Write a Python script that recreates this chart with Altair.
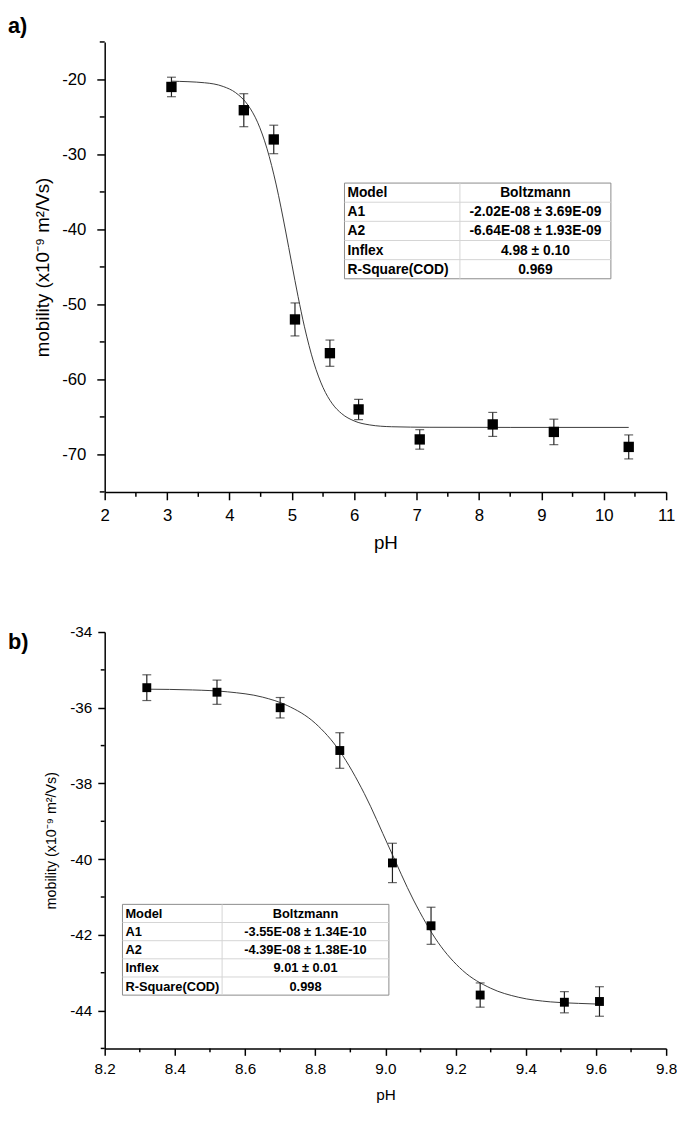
import altair as alt
import pandas as pd

FONT = "Liberation Sans"

# ---------------- panel a data ----------------
ph_a = [3.07, 4.23, 4.71, 5.05, 5.61, 6.07, 7.05, 8.22, 9.20, 10.40]
mob_a = [-21.0, -24.1, -28.0, -52.0, -56.5, -64.0, -68.0, -66.0, -67.0, -69.0]
err_a = [1.3, 2.2, 1.9, 2.2, 1.75, 1.35, 1.3, 1.6, 1.7, 1.6]
fit_ph_a = [3.07, 3.6, 3.9, 4.1, 4.3, 4.45, 4.6, 4.75, 4.9, 5.0, 5.1, 5.2, 5.35,
            5.5, 5.65, 5.8, 6.0, 6.25, 6.6, 7.2, 8.5, 10.4]
fit_mob_a = [-20.23, -20.44, -20.94, -21.77, -23.46, -25.7, -29.18, -34.07, -40.21,
             -44.63, -48.96, -52.9, -57.7, -61.08, -63.26, -64.57, -65.54, -66.07,
             -66.31, -66.38, -66.4, -66.4]
xticks_a = [2, 3, 4, 5, 6, 7, 8, 9, 10, 11]
xminor_a = [2.5, 3.5, 4.5, 5.5, 6.5, 7.5, 8.5, 9.5, 10.5]
yticks_a = [-20, -30, -40, -50, -60, -70]
yminor_a = [-15, -25, -35, -45, -55, -65, -75]
tab_labels_a = ["Model", "A1", "A2", "Inflex", "R-Square(COD)"]
tab_values_a = ["Boltzmann", "-2.02E-08 ± 3.69E-09", "-6.64E-08 ± 1.93E-09",
                "4.98 ± 0.10", "0.969"]

# ---------------- panel b data ----------------
ph_b = [8.32, 8.52, 8.70, 8.87, 9.02, 9.13, 9.27, 9.51, 9.61]
mob_b = [-35.47, -35.59, -36.00, -37.13, -40.10, -41.76, -43.59, -43.78, -43.76]
err_b = [0.34, 0.32, 0.27, 0.47, 0.52, 0.49, 0.32, 0.28, 0.39]
fit_ph_b = [8.32, 8.45, 8.55, 8.65, 8.72, 8.80, 8.87, 8.94, 9.01, 9.08, 9.15,
            9.22, 9.30, 9.38, 9.47, 9.55, 9.61]
fit_mob_b = [-35.51, -35.53, -35.58, -35.72, -35.94, -36.41, -37.15, -38.27, -39.68,
             -41.08, -42.20, -42.94, -43.41, -43.65, -43.77, -43.81, -43.83]
xticks_b = [8.2, 8.4, 8.6, 8.8, 9.0, 9.2, 9.4, 9.6, 9.8]
xminor_b = [8.3, 8.5, 8.7, 8.9, 9.1, 9.3, 9.5, 9.7]
yticks_b = [-34, -36, -38, -40, -42, -44]
yminor_b = [-35, -37, -39, -41, -43, -45]
tab_labels_b = ["Model", "A1", "A2", "Inflex", "R-Square(COD)"]
tab_values_b = ["Boltzmann", "-3.55E-08 ± 1.34E-10", "-4.39E-08 ± 1.38E-10",
                "9.01 ± 0.01", "0.998"]

YTITLE = "mobility (x10⁻⁹ m²/Vs)"


def panel(ph, mob, err, fph, fmob, xdom, ydom, xticks, xminor, yticks, yminor,
          xexpr, W, H, labels, values, letter, st):
    pts = pd.DataFrame({"pH": ph, "m": mob, "lo": [m - e for m, e in zip(mob, err)],
                        "hi": [m + e for m, e in zip(mob, err)]})
    fit = pd.DataFrame({"pH": fph, "m": fmob})
    xs = alt.Scale(domain=xdom, nice=False, zero=False)
    ys = alt.Scale(domain=ydom, nice=False, zero=False)
    xaxis = alt.Axis(values=xticks, labelExpr=xexpr, title="pH", grid=False,
                     labelFont=FONT, labelFontSize=st["lfs"], labelColor="black",
                     labelPadding=st["xlp"], labelFlush=False, labelOverlap=False,
                     tickSize=st["tick"], tickWidth=1.5, tickColor="black",
                     domainColor="black", domainWidth=1.5,
                     titleFont=FONT, titleFontSize=st["xtfs"], titleFontWeight="normal",
                     titleColor="black", titleY=st["xty"], titleX=W / 2,
                     titleBaseline="middle")
    yaxis = alt.Axis(values=yticks, labelExpr="'' + datum.value", title=YTITLE,
                     grid=False,
                     labelFont=FONT, labelFontSize=st["lfs"], labelColor="black",
                     labelPadding=st["ylp"], labelFlush=False, labelOverlap=False,
                     tickSize=st["tick"], tickWidth=1.5, tickColor="black",
                     domainColor="black", domainWidth=1.5,
                     titleFont=FONT, titleFontSize=st["ytfs"], titleFontWeight="normal",
                     titleColor="black", titleX=st["ytx"], titleY=H / 2,
                     titleAngle=270, titleBaseline="middle", titleAlign="center")

    def X(f):
        return alt.X(f, type="quantitative", scale=xs, axis=xaxis)

    def Y(f):
        return alt.Y(f, type="quantitative", scale=ys, axis=yaxis)

    line = alt.Chart(fit).mark_line(color="#3a3a3a", strokeWidth=1,
                                    interpolate="monotone").encode(x=X("pH"), y=Y("m"))
    bars = alt.Chart(pts).mark_rule(color="#222", strokeWidth=1.2).encode(
        x=X("pH"), y=Y("lo"), y2="hi")
    cap_lo = alt.Chart(pts).mark_tick(orient="horizontal", size=9, thickness=1.2,
                                      color="#222").encode(x=X("pH"), y=Y("lo"))
    cap_hi = alt.Chart(pts).mark_tick(orient="horizontal", size=9, thickness=1.2,
                                      color="#222").encode(x=X("pH"), y=Y("hi"))
    sq = alt.Chart(pts).mark_square(size=st["sq"], color="black", opacity=1).encode(
        x=X("pH"), y=Y("m"))

    xmin_df = pd.DataFrame({"pH": xminor})
    ymin_df = pd.DataFrame({"m": yminor})
    xmin = alt.Chart(xmin_df).mark_rule(color="black", strokeWidth=1.5).encode(
        x=X("pH"), y=alt.value(H), y2=alt.value(H + st["minor"]))
    ymin = alt.Chart(ymin_df).mark_rule(color="black", strokeWidth=1.5).encode(
        y=Y("m"), x=alt.value(-st["minor"]), x2=alt.value(0))

    one = pd.DataFrame({"k": [0]})
    base = alt.Chart(one)
    x0, y0, c1, c2, rh = st["tab"]
    x1 = x0 + c1 + c2
    y1 = y0 + 5 * rh
    tlayers = [base.mark_rect(fill="white", stroke="#8a8a8a", strokeWidth=1).encode(
        x=alt.value(x0), x2=alt.value(x1), y=alt.value(y0), y2=alt.value(y1))]
    for i in range(1, 5):
        tlayers.append(base.mark_rule(color="#d4d4d4", strokeWidth=1).encode(
            x=alt.value(x0), x2=alt.value(x1), y=alt.value(y0 + i * rh)))
    tlayers.append(base.mark_rule(color="#d4d4d4", strokeWidth=1).encode(
        x=alt.value(x0 + c1), y=alt.value(y0), y2=alt.value(y1)))
    for i, (lab, val) in enumerate(zip(labels, values)):
        yy = y0 + (i + 0.5) * rh + 0.5
        tlayers.append(base.mark_text(text=lab, align="left", baseline="middle",
                                      font=FONT, fontSize=st["tabfs"], fontWeight="bold",
                                      color="black").encode(
            x=alt.value(x0 + 3), y=alt.value(yy)))
        tlayers.append(base.mark_text(text=val, align="center", baseline="middle",
                                      font=FONT, fontSize=st["tabfs"], fontWeight="bold",
                                      color="black").encode(
            x=alt.value(x0 + c1 + c2 / 2), y=alt.value(yy)))

    lett = base.mark_text(text=letter, align="left", baseline="middle", font=FONT,
                          fontSize=22, fontWeight="bold", color="black").encode(
        x=alt.value(-98), y=alt.value(st["lety"]))

    return alt.layer(line, bars, cap_lo, cap_hi, sq, xmin, ymin, *tlayers, lett).properties(
        width=W, height=H)


st_a = dict(lfs=17, xtfs=19, ytfs=19, xlp=8, ylp=11, tick=8, minor=5, xty=51, ytx=-63,
            sq=110, tab=(243, 143, 117, 153, 19.4), tabfs=14, lety=-16)
st_b = dict(lfs=15.5, xtfs=15.5, ytfs=14.5, xlp=6, ylp=6, tick=7, minor=4, xty=47,
            ytx=-54, sq=81, tab=(18, 276, 101, 169, 18.4), tabfs=13, lety=10)

pa = panel(ph_a, mob_a, err_a, fit_ph_a, fit_mob_a, [2, 11], [-75, -15], xticks_a,
           xminor_a, yticks_a, yminor_a, "'' + datum.value", 569, 456, tab_labels_a,
           tab_values_a, "a)", st_a)
pb = panel(ph_b, mob_b, err_b, fit_ph_b, fit_mob_b, [8.2, 9.8], [-45, -34], xticks_b,
           xminor_b, yticks_b, yminor_b, "format(datum.value, '.1f')", 569, 422,
           tab_labels_b, tab_values_b, "b)", st_b)

chart = alt.vconcat(pa, pb, spacing=74).properties(
    padding={"left": 0, "top": 0, "right": 0, "bottom": 0}
).configure_view(stroke=None)

chart.save("out.html", embed_options={"renderer": "svg", "actions": False})
